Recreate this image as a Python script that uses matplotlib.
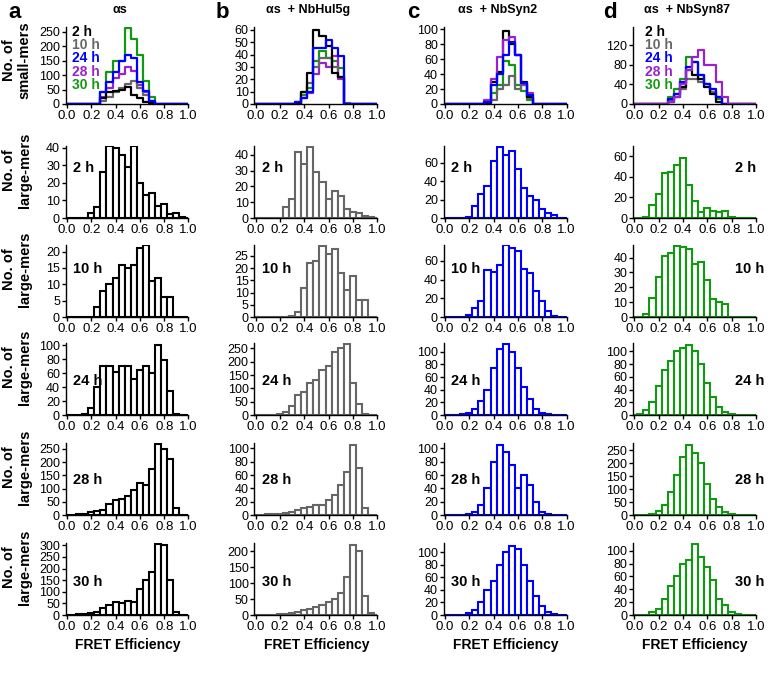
import numpy as np
import matplotlib.pyplot as plt
from matplotlib.ticker import FormatStrFormatter

plt.rcParams['font.family'] = ['Liberation Sans', 'DejaVu Sans']

# bin centres of the FRET histograms
fret = [0.00, 0.05, 0.10, 0.15, 0.20, 0.25, 0.30, 0.35, 0.40, 0.45, 0.50,
        0.55, 0.60, 0.65, 0.70, 0.75, 0.80, 0.85, 0.90, 0.95, 1.00]

times = ['2 h', '10 h', '24 h', '28 h', '30 h']
time_colors = ['#000000', '#666666', '#0000ff', '#9922cc', '#119911']
titles = ['αs', 'αs  + NbHul5g', 'αs  + NbSyn2', 'αs  + NbSyn87']
letters = ['a', 'b', 'c', 'd']
col_colors = ['#000000', '#666666', '#0000ff', '#119911']

# ---- small-mers (top row), one list per time point
sa_2h  = [0, 0, 0, 0, 0, 0, 20, 40, 45, 50, 60, 30, 20, 8, 2, 0, 0, 0, 0, 0, 0]
sa_10h = [0, 0, 0, 0, 0, 0, 10, 25, 40, 55, 70, 80, 55, 30, 5, 0, 0, 0, 0, 0, 0]
sa_24h = [0, 0, 0, 0, 0, 0, 40, 75, 110, 150, 170, 160, 75, 45, 12, 0, 0, 0, 0, 0, 0]
sa_28h = [0, 0, 0, 0, 0, 0, 25, 55, 90, 105, 130, 115, 65, 40, 10, 0, 0, 0, 0, 0, 0]
sa_30h = [0, 0, 0, 0, 0, 0, 40, 110, 150, 150, 265, 225, 170, 80, 25, 0, 0, 0, 0, 0, 0]

sb_2h  = [0, 0, 0, 0, 0, 0, 0, 0, 10, 25, 60, 55, 47, 25, 22, 0, 0, 0, 0, 0, 0]
sb_10h = [0, 0, 0, 0, 0, 0, 0, 0, 10, 17, 30, 37, 37, 30, 22, 1, 0, 0, 0, 0, 0]
sb_24h = [0, 0, 0, 0, 0, 0, 0, 2, 5, 10, 45, 45, 52, 45, 39, 0, 0, 0, 0, 0, 0]
sb_28h = [0, 0, 0, 0, 0, 0, 0, 2, 5, 9, 24, 33, 30, 39, 20, 0, 0, 0, 0, 0, 0]
sb_30h = [0, 0, 0, 0, 0, 0, 0, 0, 7, 13, 35, 43, 37, 35, 29, 0, 0, 0, 0, 0, 0]

sc_2h  = [0, 0, 0, 0, 0, 0, 0, 2, 30, 43, 98, 80, 65, 30, 10, 0, 0, 0, 0, 0, 0]
sc_10h = [0, 0, 0, 0, 0, 0, 0, 1, 5, 20, 25, 37, 20, 25, 8, 0, 0, 0, 0, 0, 0]
sc_24h = [0, 0, 0, 0, 0, 0, 0, 3, 25, 40, 65, 83, 65, 28, 12, 0, 0, 0, 0, 0, 0]
sc_28h = [0, 0, 0, 0, 0, 0, 0, 5, 33, 63, 85, 90, 65, 27, 15, 0, 0, 0, 0, 0, 0]
sc_30h = [0, 0, 0, 0, 0, 0, 0, 3, 15, 25, 57, 52, 25, 18, 5, 0, 0, 0, 0, 0, 0]

sd_2h  = [0, 0, 0, 0, 0, 0, 5, 15, 35, 70, 60, 50, 35, 20, 5, 0, 0, 0, 0, 0, 0]
sd_10h = [0, 0, 0, 0, 0, 0, 8, 20, 30, 50, 50, 45, 40, 25, 15, 0, 0, 0, 0, 0, 0]
sd_24h = [0, 0, 0, 0, 0, 0, 10, 20, 45, 75, 85, 60, 40, 30, 15, 0, 0, 0, 0, 0, 0]
sd_28h = [0, 0, 0, 0, 0, 0, 5, 15, 40, 70, 95, 110, 80, 80, 45, 15, 0, 0, 0, 0, 0]
sd_30h = [0, 0, 0, 0, 0, 0, 15, 30, 50, 95, 85, 60, 40, 25, 10, 0, 0, 0, 0, 0, 0]

# ---- large-mers, one list per panel
la_2h  = [0, 0, 0, 0, 3, 6, 26, 41, 40, 36, 29, 41, 20, 13, 14, 7, 8, 2, 3, 0.5, 0]
lb_2h  = [0, 0, 0, 0, 0, 7, 12, 42, 34, 45, 29, 23, 12, 17, 14, 6, 4, 3, 1, 0.5, 0]
lc_2h  = [0, 0, 0, 0, 1, 13, 26, 35, 62, 77, 68, 73, 53, 32, 24, 19, 10, 5, 3, 0.5, 0]
ld_2h  = [0, 0, 1, 13, 23, 44, 45, 52, 58, 32, 17, 6, 10, 7, 6, 7, 0.5, 0, 0, 0, 0]

la_10h = [0, 0, 0, 0, 0, 3, 8, 10, 12, 16, 15, 16, 21, 22, 11, 12, 6, 6, 0, 0, 0]
lb_10h = [0, 0, 0, 0, 0, 0, 0.5, 2, 12, 22, 23, 29, 26, 28, 18, 11, 17, 7, 7, 0, 0]
lc_10h = [0, 0, 0, 0, 2, 10, 17, 50, 48, 56, 77, 74, 71, 51, 47, 28, 17, 6, 1, 0, 0]
ld_10h = [0, 0, 2, 13, 27, 41, 43, 48, 47, 46, 36, 37, 25, 12, 10, 9, 0, 0, 0, 0, 0]

la_24h = [0, 0, 0, 1, 10, 40, 70, 70, 62, 70, 70, 52, 65, 70, 60, 100, 78, 35, 2, 0, 0]
lb_24h = [0, 0, 0, 0, 5, 10, 35, 75, 85, 120, 130, 170, 185, 235, 250, 265, 120, 40, 5, 0, 0]
lc_24h = [0, 0, 0, 1, 3, 10, 22, 40, 75, 105, 112, 100, 75, 45, 25, 10, 3, 1, 0, 0, 0]
ld_24h = [0, 2, 8, 20, 45, 70, 85, 100, 105, 110, 100, 80, 50, 28, 12, 5, 2, 0, 0, 0, 0]

la_28h = [0, 0, 2, 5, 10, 15, 20, 40, 55, 60, 70, 95, 120, 115, 175, 270, 250, 210, 25, 0, 0]
lb_28h = [0, 0, 1, 1, 2, 3, 5, 8, 10, 12, 15, 15, 22, 30, 45, 65, 105, 70, 10, 0, 0]
lc_28h = [0, 0, 0, 0, 1, 5, 15, 40, 80, 105, 95, 75, 40, 60, 45, 20, 5, 1, 0, 0, 0]
ld_28h = [0, 0, 0, 5, 15, 40, 90, 155, 225, 270, 240, 200, 120, 60, 30, 10, 3, 0, 0, 0, 0]

la_30h = [0, 0, 3, 5, 10, 15, 30, 45, 55, 50, 60, 55, 110, 150, 185, 305, 300, 150, 15, 0, 0]
lb_30h = [0, 0, 0, 0, 2, 3, 5, 10, 15, 20, 25, 30, 40, 50, 70, 120, 220, 200, 60, 5, 0]
lc_30h = [0, 0, 0, 0, 3, 8, 20, 40, 55, 80, 100, 110, 105, 80, 55, 30, 15, 5, 1, 0, 0]
ld_30h = [0, 0, 0, 5, 10, 25, 45, 60, 80, 85, 110, 90, 75, 55, 25, 15, 5, 2, 0, 0, 0]

small = [[sa_2h, sa_10h, sa_24h, sa_28h, sa_30h],
         [sb_2h, sb_10h, sb_24h, sb_28h, sb_30h],
         [sc_2h, sc_10h, sc_24h, sc_28h, sc_30h],
         [sd_2h, sd_10h, sd_24h, sd_28h, sd_30h]]
large = [[la_2h, lb_2h, lc_2h, ld_2h],
         [la_10h, lb_10h, lc_10h, ld_10h],
         [la_24h, lb_24h, lc_24h, ld_24h],
         [la_28h, lb_28h, lc_28h, ld_28h],
         [la_30h, lb_30h, lc_30h, ld_30h]]

# y axis top and tick step per panel (rows x columns)
ytop = [[267, 62.3, 102.7, 157],
        [41, 45.5, 78, 70],
        [22, 29.5, 77, 48.5],
        [103, 270, 114, 113],
        [272, 108, 108, 278],
        [310, 225, 115, 112]]
ystep = [[50, 10, 20, 40],
         [10, 10, 20, 20],
         [5, 5, 20, 10],
         [20, 50, 20, 20],
         [50, 20, 20, 50],
         [50, 50, 20, 20]]
ymaxtick = [[250, 60, 100, 120],
            [40, 40, 60, 60],
            [20, 25, 60, 40],
            [100, 250, 100, 100],
            [250, 100, 100, 250],
            [300, 200, 100, 100]]

W, H = 778, 683
fig = plt.figure(figsize=(W / 100, H / 100), dpi=100)

col_x0 = [67, 255.7, 445, 634.3]     # pixel of FRET = 0.0
unit = 121.5                         # pixels per FRET unit
rows_px = [(27, 104), (146, 218), (245, 317), (343, 415), (443, 515), (543, 615)]
label_y = [None, 0.70, 0.67, 0.47, 0.49, 0.46]


def make_axes(r, c):
    x0 = col_x0[c] - 0.012 * unit
    top, bot = rows_px[r]
    ax = fig.add_axes([x0 / W, 1 - bot / H, 1.012 * unit / W, (bot - top) / H])
    ax.set_xlim(-0.012, 1.0)
    ax.set_ylim(0, ytop[r][c])
    for s in ['top', 'right']:
        ax.spines[s].set_visible(False)
    for s in ['left', 'bottom']:
        ax.spines[s].set_linewidth(1.0)
    ax.set_xticks([0, 0.2, 0.4, 0.6, 0.8, 1.0])
    ax.xaxis.set_major_formatter(FormatStrFormatter('%.1f'))
    ax.set_yticks(np.arange(0, ymaxtick[r][c] + 1, ystep[r][c]))
    ax.tick_params(axis='x', length=3, width=1, pad=1, labelsize=9.5)
    ax.tick_params(axis='y', length=3, width=1, pad=1, labelsize=9)
    return ax


# top row: small-mers, overlaid step outlines
orders = [[4, 3, 1, 0, 2], [4, 3, 1, 0, 2], [4, 1, 0, 3, 2], [4, 1, 0, 2, 3]]
for c in range(4):
    ax = make_axes(0, c)
    for k in orders[c]:
        ax.step(fret, small[c][k], where='mid', color=time_colors[k], lw=1.6)

# legends of the top row
for c, xa in [(0, 0.05), (3, 0.10)]:
    ax = fig.axes[c]
    for k, t in enumerate(times):
        ypx = 32 + 13.2 * k
        ax.text(xa, (104 - ypx) / 77, t, transform=ax.transAxes, color=time_colors[k],
                fontsize=10, fontweight='bold', ha='left', va='center')

# large-mers rows
for r in range(5):
    for c in range(4):
        ax = make_axes(r + 1, c)
        ax.bar(fret, large[r][c], width=0.05, color='white',
               edgecolor=col_colors[c], linewidth=1.5)
        xa = 0.06 if c < 3 else 0.83
        ax.text(xa, label_y[r + 1], times[r], transform=ax.transAxes,
                fontsize=10.5, fontweight='bold', ha='left', va='center')

# row labels
for r, (top, bot) in enumerate(rows_px):
    name = 'No. of\nsmall-mers' if r == 0 else 'No. of\nlarge-mers'
    yc = (top + bot) / 2 - (5 if r == 0 else 12)
    fig.text(17 / W, 1 - yc / H, name, rotation=90, ha='center', va='center',
             fontsize=10.5, fontweight='bold', linespacing=1.1, multialignment='center')

# column titles, letters and x labels
letter_x = [15, 222, 413, 610]
for c in range(4):
    xc = col_x0[c] + 0.5 * unit
    fig.text((xc - 8) / W, 1 - 10 / H, titles[c], ha='center', va='center',
             fontsize=9, fontweight='bold')
    fig.text(letter_x[c] / W, 1 - 12 / H, letters[c], ha='center', va='center',
             fontsize=16, fontweight='bold')
    fig.text(xc / W, 1 - 645 / H, 'FRET Efficiency', ha='center', va='center',
             fontsize=10, fontweight='bold')

fig.savefig('out.png', dpi=100)
